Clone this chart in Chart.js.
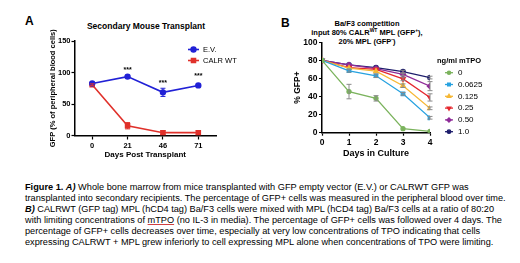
<!DOCTYPE html>
<html>
<head>
<meta charset="utf-8">
<script src="https://cdn.jsdelivr.net/npm/chart.js@4.4.1/dist/chart.umd.min.js"></script>
<style>
  html, body { margin: 0; padding: 0; background: #fff; }
  body { width: 520px; height: 263px; position: relative; overflow: hidden;
         font-family: "Liberation Sans", Arial, sans-serif; color: #000; }
  .abs { position: absolute; }
  .panel { font-weight: bold; font-size: 12px; line-height: 12px; }
  #titleA { left: 46px; width: 200px; top: 21px; text-align: center; font-weight: bold; font-size: 8.5px; line-height: 10px; }
  #titleB { left: 287px; width: 160px; top: 19px; text-align: center; font-weight: bold; font-size: 7.5px; line-height: 9.2px; }
  #titleB sup { font-size: 5px; line-height: 0; vertical-align: 3px; }
  #caption { left: 25px; top: 182px; font-size: 9.2px; line-height: 11px; white-space: nowrap; }
  #caption .sp { text-decoration: underline; text-decoration-color: #d04040; }
</style>
</head>
<body>
<div class="abs panel" style="left:25px;top:15px;">A</div>
<div class="abs panel" style="left:281px;top:17px;">B</div>
<div id="titleA" class="abs">Secondary Mouse Transplant</div>
<div id="titleB" class="abs">Ba/F3 competition<br>input 80% CALR<sup>WT</sup> MPL (GFP<sup>+</sup>),<br>20% MPL (GFP<sup>-</sup>)</div>
<canvas id="chartA" class="abs" style="left:0;top:0;" width="260" height="175"></canvas>
<canvas id="chartB" class="abs" style="left:260px;top:0;" width="260" height="175"></canvas>
<div id="caption" class="abs"><b>Figure 1. <i>A)</i></b> Whole bone marrow from mice transplanted with GFP empty vector (E.V.) or CALRWT GFP was<br>transplanted into secondary recipients. The percentage of GFP+ cells was measured in the peripheral blood over time.<br><b><i>B)</i></b> CALRWT (GFP tag) MPL (hCD4 tag) Ba/F3 cells were mixed with MPL (hCD4 tag) Ba/F3 cells at a ratio of 80:20<br>with limiting concentrations of <span class="sp">mTPO</span> (no IL-3 in media). The percentage of GFP+ cells was followed over 4 days. The<br>percentage of GFP+ cells decreases over time, especially at very low concentrations of TPO indicating that cells<br>expressing CALRWT + MPL grew inferiorly to cell expressing MPL alone when concentrations of TPO were limiting.</div>

<script>
// Panel A: secondary transplant, GFP% in peripheral blood
const daysA = ['0', '21', '46', '71']
const evMean = [82.5, 93.5, 68.5, 79.5]
const evErr = [1.5, 1, 6.5, 1.5]
const calrMean = [80.5, 15.5, 4.5, 4.5]
const calrErr = [1.5, 5, 3, 3]
const starLevel = [null, 107, 85, 96]   // where the *** sits, in % units
const yTicksA = [0, 50, 100, 150]

// Panel B: Ba/F3 competition, % GFP+ per mTPO dose
const daysB = [0, 1, 2, 3, 4]
const doses = ['0', '0.0625', '0.125', '0.25', '0.50', '1.0']
const gfpDose0 = [80, 45.5, 38, 4.5, 1.5]
const gfpDose00625 = [80, 68.5, 63, 43, 16.5]
const gfpDose0125 = [80, 71.5, 68, 52, 27]
const gfpDose025 = [80, 72, 70, 59.5, 39]
const gfpDose050 = [80, 75, 71, 64.5, 51.5]
const gfpDose10 = [80, 75, 72, 67.5, 61]
const errDose0 = [0, 8, 3, 1, 1]
const errDose00625 = [0, 1.5, 2, 1.5, 1.5]
const errDose0125 = [0, 1, 1, 2, 1.5]
const errDose025 = [0, 1, 1, 2, 4]
const errDose050 = [0, 1, 1, 1.5, 5]
const errDose10 = [0, 1, 1, 1.5, 1.5]
const yTicksB = [0, 20, 40, 60, 80, 100]

const FONT = '"Liberation Sans", Arial, sans-serif'
Chart.defaults.font.family = FONT
Chart.defaults.color = '#000'

// error bars drawn from each dataset's "errors" array through the chart's scales
const errorBars = {
  id: 'errorBars',
  afterDatasetsDraw(chart) {
    const { ctx, scales: { y } } = chart
    chart.data.datasets.forEach((ds, i) => {
      if (!ds.errors) return
      const meta = chart.getDatasetMeta(i)
      ctx.save()
      ctx.strokeStyle = ds.errorColor || ds.borderColor
      ctx.lineWidth = 1
      meta.data.forEach((pt, j) => {
        const e = ds.errors[j]
        if (!e || e < 1.2) return
        const v = ds.data[j].y !== undefined ? ds.data[j].y : ds.data[j]
        const yt = y.getPixelForValue(v + e)
        const yb = y.getPixelForValue(v - e)
        const w = ds.capWidth || 2.5
        ctx.beginPath()
        ctx.moveTo(pt.x, yt); ctx.lineTo(pt.x, yb)
        ctx.moveTo(pt.x - w, yt); ctx.lineTo(pt.x + w, yt)
        ctx.moveTo(pt.x - w, yb); ctx.lineTo(pt.x + w, yb)
        ctx.stroke()
      })
      ctx.restore()
    })
  }
}

// significance stars above panel A points
const stars = {
  id: 'stars',
  afterDatasetsDraw(chart, args, opts) {
    if (!opts.levels) return
    const { ctx, scales: { x, y } } = chart
    ctx.save()
    ctx.fillStyle = '#000'
    ctx.font = 'bold 7px ' + FONT
    ctx.textAlign = 'center'
    ctx.textBaseline = 'middle'
    opts.levels.forEach((lv, i) => {
      if (lv == null) return
      ctx.fillText('***', x.getPixelForValue(i), y.getPixelForValue(lv) + 1.5)
    })
    ctx.restore()
  }
}

// Prism-style legend: short line with marker, then label
const sideLegend = {
  id: 'sideLegend',
  afterDraw(chart, args, o) {
    if (!o.left) return
    const { ctx } = chart
    ctx.save()
    let y = o.top
    if (o.title) {
      ctx.font = 'bold ' + o.titleSize + 'px ' + FONT
      ctx.fillStyle = '#000'
      ctx.textBaseline = 'middle'
      ctx.textAlign = 'left'
      ctx.fillText(o.title, o.titleLeft, o.titleTop)
    }
    chart.data.datasets.forEach((ds) => {
      ctx.strokeStyle = ds.borderColor
      ctx.fillStyle = ds.borderColor
      ctx.lineWidth = ds.borderWidth
      ctx.beginPath()
      ctx.moveTo(o.left, y); ctx.lineTo(o.left + o.lineLen, y)
      ctx.stroke()
      Chart.helpers.drawPoint(ctx, {
        pointStyle: ds.pointStyle, radius: ds.pointRadius * (o.markerScale || 1),
        rotation: ds.pointRotation || 0, borderWidth: 1
      }, o.left + o.lineLen / 2, y)
      ctx.fillStyle = '#000'
      ctx.font = o.size + 'px ' + FONT
      ctx.textBaseline = 'middle'
      ctx.textAlign = 'left'
      ctx.fillText(ds.label, o.left + o.lineLen + o.gap, y)
      y += o.step
    })
    ctx.restore()
  }
}

function axisStyle(tickLen) {
  return {
    grid: { display: true, drawOnChartArea: false, drawTicks: true, tickLength: tickLen,
            tickColor: '#000', tickWidth: 1.2, offset: false },
    border: { color: '#000', width: 1.5 }
  }
}

new Chart(document.getElementById('chartA'), {
  type: 'line',
  data: {
    labels: daysA,
    datasets: [
      { label: 'E.V.', data: evMean, errors: evErr, borderColor: '#2121d6', backgroundColor: '#2121d6',
        borderWidth: 1.6, pointStyle: 'circle', pointRadius: 2.4, tension: 0 },
      { label: 'CALR WT', data: calrMean, errors: calrErr, borderColor: '#e0312b', backgroundColor: '#e0312b',
        borderWidth: 1.6, pointStyle: 'rect', pointRadius: 2.8, tension: 0 }
    ]
  },
  options: {
    responsive: false,
    animation: false,
    layout: { padding: { left: 48, right: 44, top: 41, bottom: 15 } },
    plugins: {
      legend: { display: false },
      tooltip: { enabled: false },
      stars: { levels: starLevel },
      sideLegend: { left: 188, top: 49.5, step: 11, lineLen: 11, gap: 4, size: 7.5 }
    },
    scales: {
      x: {
        type: 'category', offset: true, ...axisStyle(4),
        ticks: { color: '#000', font: { size: 7.5, weight: 'bold' }, padding: 1.5, maxRotation: 0 },
        title: { display: true, text: 'Days Post Transplant', color: '#000',
                 font: { size: 8, weight: 'bold' }, padding: 0 },
        afterFit(s) { s.height = 24.5 }
      },
      y: {
        min: 0, max: 150, ...axisStyle(3),
        afterBuildTicks(s) { s.ticks = yTicksA.map(v => ({ value: v })) },
        ticks: { color: '#000', font: { size: 7.5, weight: 'bold' }, padding: 1 },
        title: { display: true, text: 'GFP (% of peripheral blood cells)', color: '#000',
                 font: { size: 7.5, weight: 'bold' }, padding: 0 },
        afterFit(s) { s.width = 26.5 }
      }
    }
  },
  plugins: [errorBars, stars, sideLegend]
})

const seriesB = [gfpDose0, gfpDose00625, gfpDose0125, gfpDose025, gfpDose050, gfpDose10]
const errorsB = [errDose0, errDose00625, errDose0125, errDose025, errDose050, errDose10]
const colorsB = ['#7bb35d', '#27a2e0', '#f6b836', '#e5282f', '#8f2c99', '#1d1d6c']
const stylesB = [
  { pointStyle: 'circle', pointRadius: 2 },
  { pointStyle: 'rect', pointRadius: 2.4 },
  { pointStyle: 'triangle', pointRadius: 2.6 },
  { pointStyle: 'triangle', pointRadius: 2.6, pointRotation: 180 },
  { pointStyle: 'rectRot', pointRadius: 2.6 },
  { pointStyle: 'circle', pointRadius: 2.2 }
]

new Chart(document.getElementById('chartB'), {
  type: 'line',
  data: {
    datasets: doses.map((d, i) => ({
      label: d,
      data: seriesB[i].map((v, j) => ({ x: daysB[j], y: v })),
      errors: errorsB[i],
      borderColor: colorsB[i], backgroundColor: colorsB[i], errorColor: '#8a8a8a',
      borderWidth: 1.3, tension: 0, capWidth: 2.5,
      ...stylesB[i]
    }))
  },
  options: {
    responsive: false,
    animation: false,
    layout: { padding: { left: 33, right: 90, top: 42.3, bottom: 15.6 } },
    plugins: {
      legend: { display: false },
      tooltip: { enabled: false },
      sideLegend: { title: 'ng/ml mTPO', titleSize: 7.5, titleLeft: 177, titleTop: 61,
                    left: 185, top: 72.7, step: 11.8, lineLen: 8, gap: 5, size: 8, markerScale: 0.8 }
    },
    scales: {
      x: {
        type: 'linear', min: 0, max: 4, ...axisStyle(3),
        afterBuildTicks(s) { s.ticks = daysB.map(v => ({ value: v })) },
        ticks: { color: '#000', font: { size: 8.5, weight: 'bold' }, padding: 1.5 },
        title: { display: true, text: 'Days in Culture', color: '#000',
                 font: { size: 9, weight: 'bold' }, padding: 0 },
        afterFit(s) { s.height = 26.7 }
      },
      y: {
        min: 0, max: 100, ...axisStyle(3),
        afterBuildTicks(s) { s.ticks = yTicksB.map(v => ({ value: v })) },
        ticks: { color: '#000', font: { size: 8.5, weight: 'bold' }, padding: 1.5 },
        title: { display: true, text: '% GFP+', color: '#000',
                 font: { size: 8.5, weight: 'bold' }, padding: 0 },
        afterFit(s) { s.width = 29 }
      }
    }
  },
  plugins: [errorBars, sideLegend]
})
</script>
</body>
</html>
